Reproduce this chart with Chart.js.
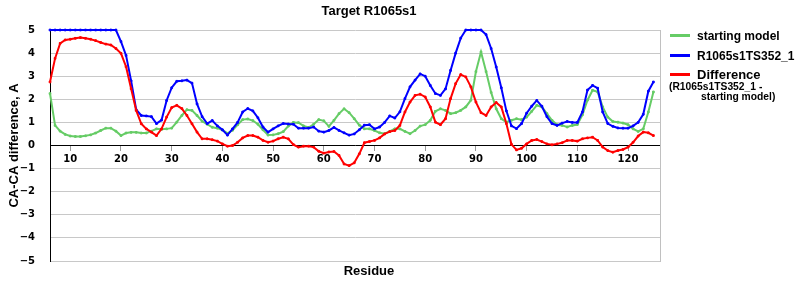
<!DOCTYPE html>
<html>
<head>
<meta charset="utf-8">
<script src="https://cdn.jsdelivr.net/npm/chart.js@4"></script>
<style>
html,body{margin:0;padding:0;background:#fff;}
#wrap{position:relative;width:800px;height:300px;overflow:hidden;}
#c{position:absolute;left:0;top:0;}
.lg{position:absolute;font-family:"Liberation Sans",Arial,sans-serif;font-weight:bold;color:#000;white-space:nowrap;}
.sw{position:absolute;width:20px;height:3px;left:670px;}
</style>
</head>
<body>
<div id="wrap">
<canvas id="c" width="800" height="300"></canvas>
<div class="sw" style="top:34px;background:#66cc66;"></div>
<div class="lg" style="left:697px;top:29px;font-size:12px;line-height:14px;">starting model</div>
<div class="sw" style="top:54px;background:#0000ff;"></div>
<div class="lg" style="left:697px;top:49px;font-size:12px;line-height:14px;">R1065s1TS352_1</div>
<div class="sw" style="top:73px;background:#ff0000;"></div>
<div class="lg" style="left:697px;top:67px;font-size:13px;line-height:15px;">Difference</div>
<div class="lg" style="left:669px;top:81px;font-size:10.3px;line-height:12px;">(R1065s1TS352_1 -</div>
<div class="lg" style="left:701px;top:91px;font-size:10.3px;line-height:12px;">starting model)</div>
</div>
<script>
const residues = [6,7,8,9,10,11,12,13,14,15,16,17,18,19,20,21,22,23,24,25,
26,27,28,29,30,31,32,33,34,35,36,37,38,39,40,41,42,43,44,45,
46,47,48,49,50,51,52,53,54,55,56,57,58,59,60,61,62,63,64,65,
66,67,68,69,70,71,72,73,74,75,76,77,78,79,80,81,82,83,84,85,
86,87,88,89,90,91,92,93,94,95,96,97,98,99,100,101,102,103,104,105,
106,107,108,109,110,111,112,113,114,115,116,117,118,119,120,121,122,123,124,125];

const startingModel = [2.25,0.87,0.62,0.48,0.41,0.39,0.39,0.42,0.46,0.54,
0.65,0.75,0.75,0.62,0.43,0.54,0.57,0.57,0.54,0.54,
0.62,0.72,0.70,0.72,0.75,1.01,1.30,1.55,1.52,1.30,
1.05,0.92,0.79,0.75,0.67,0.53,0.66,0.90,1.12,1.15,
1.08,0.92,0.68,0.45,0.46,0.51,0.60,0.84,1.00,0.99,
0.85,0.78,0.92,1.12,1.07,0.83,1.09,1.38,1.59,1.42,
1.16,0.88,0.72,0.72,0.65,0.55,0.51,0.61,0.72,0.72,
0.61,0.51,0.65,0.84,0.90,1.09,1.48,1.59,1.52,1.38,
1.42,1.52,1.67,1.96,3.20,4.05,3.20,2.30,1.59,1.16,
1.01,1.09,1.16,1.12,1.23,1.48,1.74,1.67,1.38,1.09,
0.90,0.87,0.80,0.87,0.91,1.33,1.96,2.39,2.32,1.67,
1.23,1.04,1.01,0.97,0.90,0.72,0.61,0.72,1.45,2.32];

const model352 = [5,5,5,5,5,5,5,5,5,5,
5,5,5,5,4.5,3.9,2.8,1.55,1.3,1.28,
1.25,0.95,1.1,1.95,2.5,2.78,2.8,2.83,2.7,1.8,
1.25,0.95,1.08,0.85,0.68,0.45,0.72,1.0,1.45,1.6,
1.5,1.2,0.8,0.58,0.72,0.85,0.95,0.93,0.92,0.75,
0.75,0.75,0.8,0.62,0.58,0.65,0.78,0.65,0.55,0.45,
0.5,0.68,0.88,0.9,0.72,0.8,1.0,1.28,1.19,1.46,
2.03,2.54,2.83,3.1,3.0,2.6,2.25,2.17,2.45,3.25,
4.0,4.65,5,5,5,5,4.8,4.2,3.4,2.5,
1.5,0.85,0.73,0.95,1.4,1.7,1.95,1.7,1.25,0.95,
0.87,0.97,1.04,1.0,1.0,1.45,2.4,2.6,2.48,1.45,
0.95,0.83,0.76,0.75,0.75,0.85,1.0,1.35,2.35,2.75];

const difference = [2.75,3.77,4.42,4.57,4.60,4.64,4.67,4.64,4.60,4.54,
4.46,4.39,4.35,4.20,3.99,3.41,2.46,1.52,0.94,0.72,
0.58,0.43,0.72,1.23,1.64,1.74,1.60,1.30,0.94,0.58,
0.29,0.29,0.25,0.19,0.07,-0.03,0.00,0.14,0.33,0.43,
0.43,0.36,0.22,0.14,0.19,0.29,0.36,0.29,0.04,-0.07,
-0.03,-0.03,-0.07,-0.25,-0.33,-0.28,-0.26,-0.43,-0.80,-0.87,
-0.75,-0.36,0.12,0.17,0.22,0.33,0.50,0.60,0.65,0.87,
1.45,1.88,2.17,2.22,2.10,1.67,1.01,0.90,1.16,2.03,
2.68,3.07,2.97,2.54,1.88,1.42,1.30,1.67,1.86,1.67,
0.95,0.05,-0.19,-0.12,0.07,0.22,0.26,0.17,0.07,0.03,
0.07,0.12,0.22,0.22,0.19,0.29,0.33,0.36,0.22,-0.07,
-0.22,-0.29,-0.22,-0.17,-0.07,0.14,0.41,0.58,0.55,0.43];

const xTicks = [10,20,30,40,50,60,70,80,90,100,110,120];
const yTicks = [-5,-4,-3,-2,-1,0,1,2,3,4,5];

const pts = arr => residues.map((r,i)=>({x:r,y:arr[i]}));
const tickFont = {family:'DejaVu Sans', size:10, weight:'bold'};
const titleFont = {family:'Liberation Sans', size:13, weight:'bold'};

function ds(label, arr, color, order){
  return {label, data:pts(arr), borderColor:color, backgroundColor:color,
    borderWidth:2, pointRadius:1.2, pointStyle:'rect', pointBorderWidth:1,
    tension:0, order, clip:false};
}

new Chart(document.getElementById('c'), {
  type:'line',
  data:{datasets:[
    ds('starting model', startingModel, '#66cc66', 2),
    ds('R1065s1TS352_1', model352, '#0000ff', 1),
    ds('Difference', difference, '#ff0000', 0)
  ]},
  options:{
    responsive:false, animation:false, devicePixelRatio:1,
    layout:{padding:{left:0,right:62,top:0,bottom:20.4}, autoPadding:false},
    plugins:{
      legend:{display:false}, tooltip:{enabled:false},
      title:{display:true, text:'Target R1065s1', font:titleFont, color:'#000', padding:{top:4,bottom:10.4}},
      subtitle:{display:true, position:'bottom', text:'Residue', font:titleFont, color:'#000', padding:{top:3,bottom:0}}
    },
    scales:{
      x:{type:'linear', position:{y:0}, min:6, max:126.3,
        afterBuildTicks:s=>{s.ticks = xTicks.map(v=>({value:v}));},
        ticks:{font:tickFont, color:'#000', padding:3, maxRotation:0, autoSkip:false},
        grid:{drawOnChartArea:false, tickLength:5, color:'#999999'},
        border:{color:'#000', width:1}},
      y:{type:'linear', position:'left', min:-5, max:5,
        afterBuildTicks:s=>{s.ticks = yTicks.map(v=>({value:v}));},
        afterFit:s=>{s.width = 50;},
        ticks:{font:tickFont, color:'#000', padding:15,
          callback:v=> v<0 ? '\u2212'+Math.abs(v) : String(v)},
        grid:{color:'#c8c8c8', drawTicks:false},
        border:{color:'#000', width:1},
        title:{display:true, text:'CA-CA difference, A', font:titleFont, color:'#000', padding:{top:7,bottom:0}}},
      y2:{type:'linear', position:'right', min:0, max:1,
        afterFit:s=>{s.width = 78;},
        ticks:{display:false},
        grid:{drawOnChartArea:false, drawTicks:false},
        border:{color:'#c0c0c0', width:1}}
    }
  }
});
</script>
</body>
</html>
